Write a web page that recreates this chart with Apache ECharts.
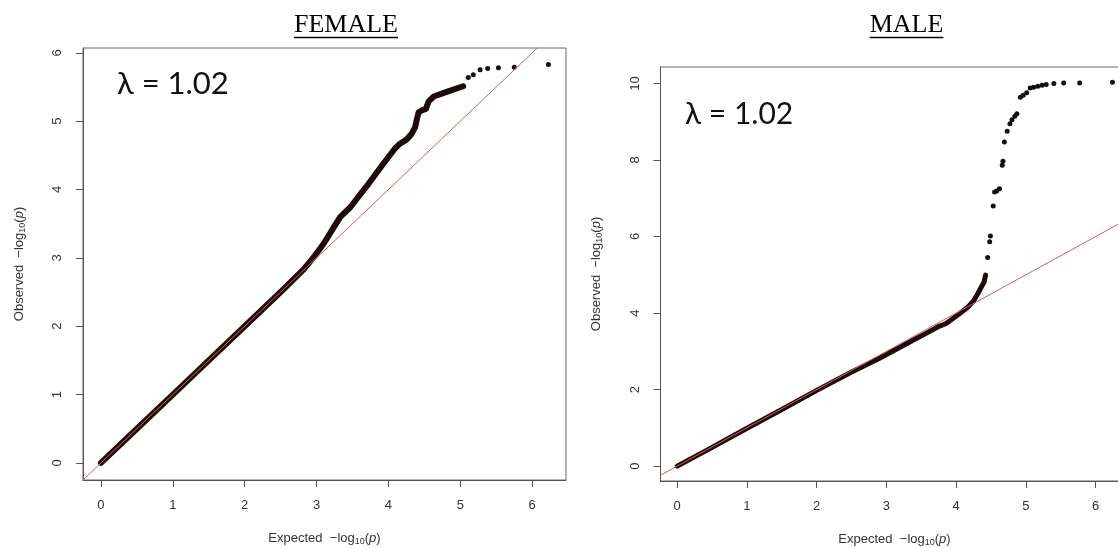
<!DOCTYPE html>
<html>
<head>
<meta charset="utf-8">
<script src="https://cdn.jsdelivr.net/npm/echarts@6/dist/echarts.min.js"></script>
<style>
  html, body { margin: 0; padding: 0; background: #fff; }
  #chart { width: 1118px; height: 548px; }
</style>
</head>
<body>
<div id="chart"></div>
<script>
// expected vs observed -log10(p)
const femaleExp = [0, 0.5, 1, 1.5, 2, 2.5, 2.82, 2.96, 3.10, 3.24, 3.33, 3.47, 3.60, 3.72, 3.91, 4.09, 4.16, 4.25, 4.32, 4.37, 4.40, 4.42, 4.47, 4.52, 4.56, 4.63, 4.76, 4.90, 5.04];
const femaleObs = [0, 0.5, 1, 1.5, 2, 2.5, 2.83, 3.01, 3.21, 3.45, 3.60, 3.74, 3.92, 4.08, 4.35, 4.60, 4.67, 4.73, 4.81, 4.91, 5.05, 5.13, 5.16, 5.18, 5.29, 5.36, 5.41, 5.46, 5.51];
const femaleTailExp = [5.11, 5.18, 5.275, 5.38, 5.53, 5.75, 6.225];
const femaleTailObs = [5.64, 5.68, 5.75, 5.77, 5.78, 5.79, 5.83];

const maleExp = [0, 0.5, 1, 1.5, 2, 2.5, 2.9, 3.38, 3.6, 3.76, 3.85, 4.05, 4.17, 4.25, 4.31, 4.36, 4.40, 4.42];
const maleObs = [0, 0.49, 0.99, 1.48, 1.98, 2.46, 2.82, 3.29, 3.5, 3.66, 3.72, 3.99, 4.16, 4.32, 4.51, 4.68, 4.81, 4.99];
const maleTailExp = [4.45, 4.48, 4.49, 4.53, 4.55, 4.58, 4.62, 4.66, 4.67, 4.69, 4.73, 4.77, 4.80, 4.84, 4.87, 4.92, 4.96, 5.01, 5.06, 5.11, 5.17, 5.23, 5.29, 5.40, 5.54, 5.77, 6.24];
const maleTailObs = [5.45, 5.86, 6.01, 6.80, 7.16, 7.19, 7.25, 7.86, 7.97, 8.47, 8.75, 8.95, 9.05, 9.14, 9.21, 9.64, 9.69, 9.76, 9.88, 9.90, 9.93, 9.95, 9.97, 10.0, 10.01, 10.01, 10.03];

const refLine = [-1, 11]; // y = x
const xTicks = [0, 1, 2, 3, 4, 5, 6];
const femaleYTicks = [0, 1, 2, 3, 4, 5, 6];
const maleYTicks = [0, 2, 4, 6, 8, 10];
const lambdaText = "λ = 1.02";

const zip = (a, b) => a.map((v, i) => [v, b[i]]);

const axisFont = "'Liberation Sans', Arial, sans-serif";
const nameRich = {
  sub: { fontSize: 9, fontFamily: axisFont, color: "#333", verticalAlign: "bottom", lineHeight: 12 },
  it: { fontSize: 13, fontFamily: axisFont, color: "#333", fontStyle: "italic" },
};

function xAxisOf(gridIndex, min, max) {
  return {
    gridIndex, type: "value", min, max,
    axisLine: { show: true, onZero: false, lineStyle: { color: "#555", width: 1 } },
    axisTick: { show: true, length: 7, customValues: xTicks, lineStyle: { color: "#555" } },
    axisLabel: { customValues: xTicks, margin: 19, fontSize: 13, color: "#333", fontFamily: axisFont },
    splitLine: { show: false },
    name: "Expected  \u2212log{sub|10}({it|p})",
    nameLocation: "middle",
    nameGap: 50,
    nameTextStyle: { fontSize: 13, color: "#333", fontFamily: axisFont, lineHeight: 16, rich: nameRich },
  };
}

function yAxisOf(gridIndex, min, max, ticks) {
  return {
    gridIndex, type: "value", min, max,
    axisLine: { show: true, onZero: false, lineStyle: { color: "#555", width: 1 } },
    axisTick: { show: true, length: 7, customValues: ticks, lineStyle: { color: "#555" } },
    axisLabel: { customValues: ticks, margin: 19, rotate: 90, fontSize: 13, color: "#333", fontFamily: axisFont },
    splitLine: { show: false },
    name: "Observed  \u2212log{sub|10}({it|p})",
    nameLocation: "middle",
    nameRotate: 90,
    nameGap: 56,
    nameTextStyle: { fontSize: 13, color: "#333", fontFamily: axisFont, lineHeight: 16, rich: nameRich },
  };
}

function panelSeries(idx, dense, tail, band) {
  return [
    {
      type: "line", xAxisIndex: idx, yAxisIndex: idx, data: dense,
      symbol: "none", z: 3,
      lineStyle: { color: "#1e0b0b", width: band, cap: "round", join: "round" },
    },
    {
      type: "scatter", xAxisIndex: idx, yAxisIndex: idx, data: tail,
      symbolSize: 5, z: 3, itemStyle: { color: "#111", opacity: 1 },
    },
    {
      type: "line", xAxisIndex: idx, yAxisIndex: idx, data: [[refLine[0], refLine[0]], [refLine[1], refLine[1]]],
      symbol: "none", z: 4,
      lineStyle: { color: "#de5a5a", width: 1 },
    },
  ];
}

// measure text so the heading underline fits it
const ctx = document.createElement("canvas").getContext("2d");
function heading(text, cx, cy, size) {
  ctx.font = size + "px 'Liberation Serif'";
  const w = ctx.measureText(text).width;
  return [
    { type: "text", x: cx, y: cy, style: { text, font: size + "px 'Liberation Serif', 'Times New Roman', serif", fill: "#000", textAlign: "center", textVerticalAlign: "middle" } },
    { type: "line", shape: { x1: cx - w / 2, y1: cy + 12.5, x2: cx + w / 2, y2: cy + 12.5 }, style: { stroke: "#000", lineWidth: 1.5 } },
  ];
}

const chart = echarts.init(document.getElementById("chart"));
chart.setOption({
  animation: false,
  backgroundColor: "#fff",
  grid: [
    { left: 83, top: 48, width: 483, height: 432, show: true, borderColor: "#666", borderWidth: 1, outerBoundsMode: "none" },
    { left: 660.5, top: 67, width: 468, height: 414, show: true, borderColor: "#666", borderWidth: 1, outerBoundsMode: "none" },
  ],
  xAxis: [xAxisOf(0, -0.25, 6.47), xAxisOf(1, -0.24, 6.47)],
  yAxis: [yAxisOf(0, -0.25, 6.07, femaleYTicks), yAxisOf(1, -0.39, 10.43, maleYTicks)],
  series: [
    ...panelSeries(0, zip(femaleExp, femaleObs), zip(femaleTailExp, femaleTailObs), 6),
    ...panelSeries(1, zip(maleExp, maleObs), zip(maleTailExp, maleTailObs), 5),
  ],
  graphic: [
    ...heading("FEMALE", 346, 25, 26),
    ...heading("MALE", 906.5, 25, 26),
    { type: "text", x: 117, y: 84, style: { text: lambdaText, font: "31px Lato, 'Noto Sans', sans-serif", fill: "#111", textVerticalAlign: "middle" } },
    { type: "text", x: 685, y: 114, style: { text: lambdaText, font: "30px Lato, 'Noto Sans', sans-serif", fill: "#111", textVerticalAlign: "middle" } },
  ],
});
</script>
</body>
</html>
